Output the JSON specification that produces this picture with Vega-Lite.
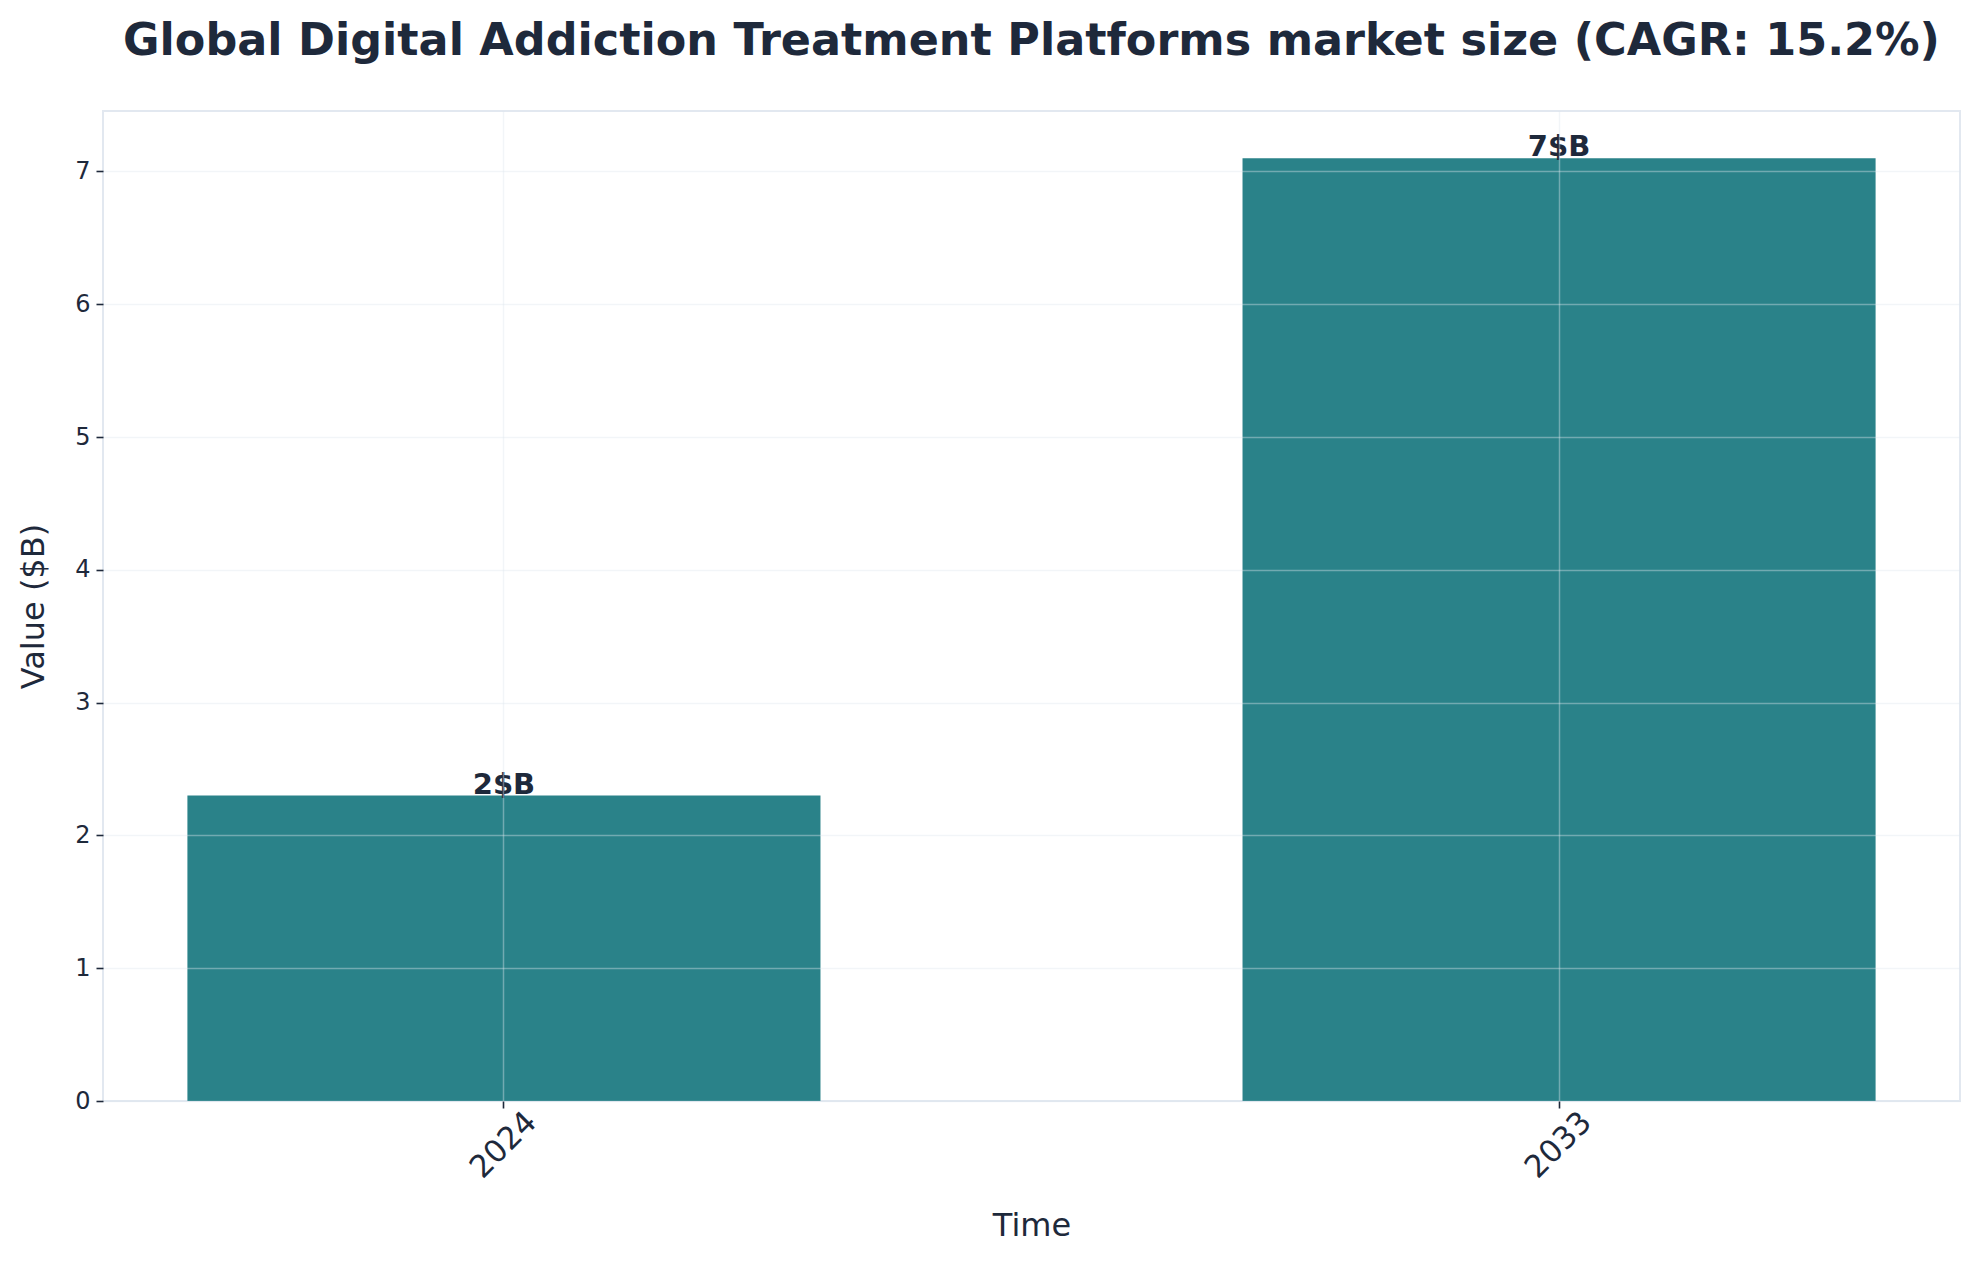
{
  "$schema": "https://vega.github.io/schema/vega-lite/v6.json",
  "autosize": {"type": "none"},
  "width": 1857,
  "height": 990,
  "padding": {"left": 103, "top": 111, "right": 17, "bottom": 164},
  "background": "white",
  "config": {
    "font": "DejaVu Sans",
    "view": {"stroke": "#e2e8f0", "strokeWidth": 2},
    "axis": {
      "labelFont": "DejaVu Sans",
      "titleFont": "DejaVu Sans",
      "labelColor": "#1e293b",
      "titleColor": "#1e293b",
      "tickColor": "#1e293b",
      "tickWidth": 1.6,
      "tickSize": 7,
      "domain": false,
      "grid": true,
      "gridColor": "#dfe6ee",
      "gridOpacity": 0.4,
      "gridWidth": 1.5,
      "titleFontWeight": "normal"
    }
  },
  "title": {
    "text": "Global Digital Addiction Treatment Platforms market size (CAGR: 15.2%)",
    "font": "DejaVu Sans",
    "fontSize": 44.5,
    "fontWeight": "bold",
    "color": "#1e293b",
    "anchor": "middle",
    "baseline": "alphabetic",
    "offset": 12
  },
  "data": {
    "values": [
      {"year": "2024", "value": 2.3},
      {"year": "2033", "value": 7.1}
    ]
  },
  "transform": [
    {"calculate": "format(datum.value, '.0f') + '$B'", "as": "label"}
  ],
  "encoding": {
    "x": {
      "field": "year",
      "type": "nominal",
      "title": "Time",
      "scale": {"paddingInner": 0.4, "paddingOuter": 0.08},
      "axis": {
        "zindex": 1,
        "labelAngle": -45,
        "labelAlign": "center",
        "labelBaseline": "middle",
        "labelFontSize": 31,
        "labelPadding": 37,
        "titleFontSize": 32,
        "titleBaseline": "middle",
        "titleY": 124,
        "bandPosition": 0.5
      }
    }
  },
  "layer": [
    {
      "mark": {"type": "bar", "color": "#2a8289"},
      "encoding": {
        "y": {
          "field": "value",
          "type": "quantitative",
          "title": "Value ($B)",
          "scale": {"domain": [0, 7.455], "nice": false, "zero": true},
          "axis": {
            "zindex": 1,
            "values": [0, 1, 2, 3, 4, 5, 6, 7],
            "format": "d",
            "labelFontSize": 24,
            "labelPadding": 6,
            "titleFontSize": 32,
            "titleX": -70,
            "titleBaseline": "middle"
          }
        }
      }
    },
    {
      "mark": {
        "type": "text",
        "font": "DejaVu Sans",
        "fontWeight": "bold",
        "fontSize": 29,
        "color": "#1e293b",
        "baseline": "alphabetic",
        "dy": -2
      },
      "encoding": {
        "y": {"field": "value", "type": "quantitative"},
        "text": {"field": "label"}
      }
    }
  ]
}
